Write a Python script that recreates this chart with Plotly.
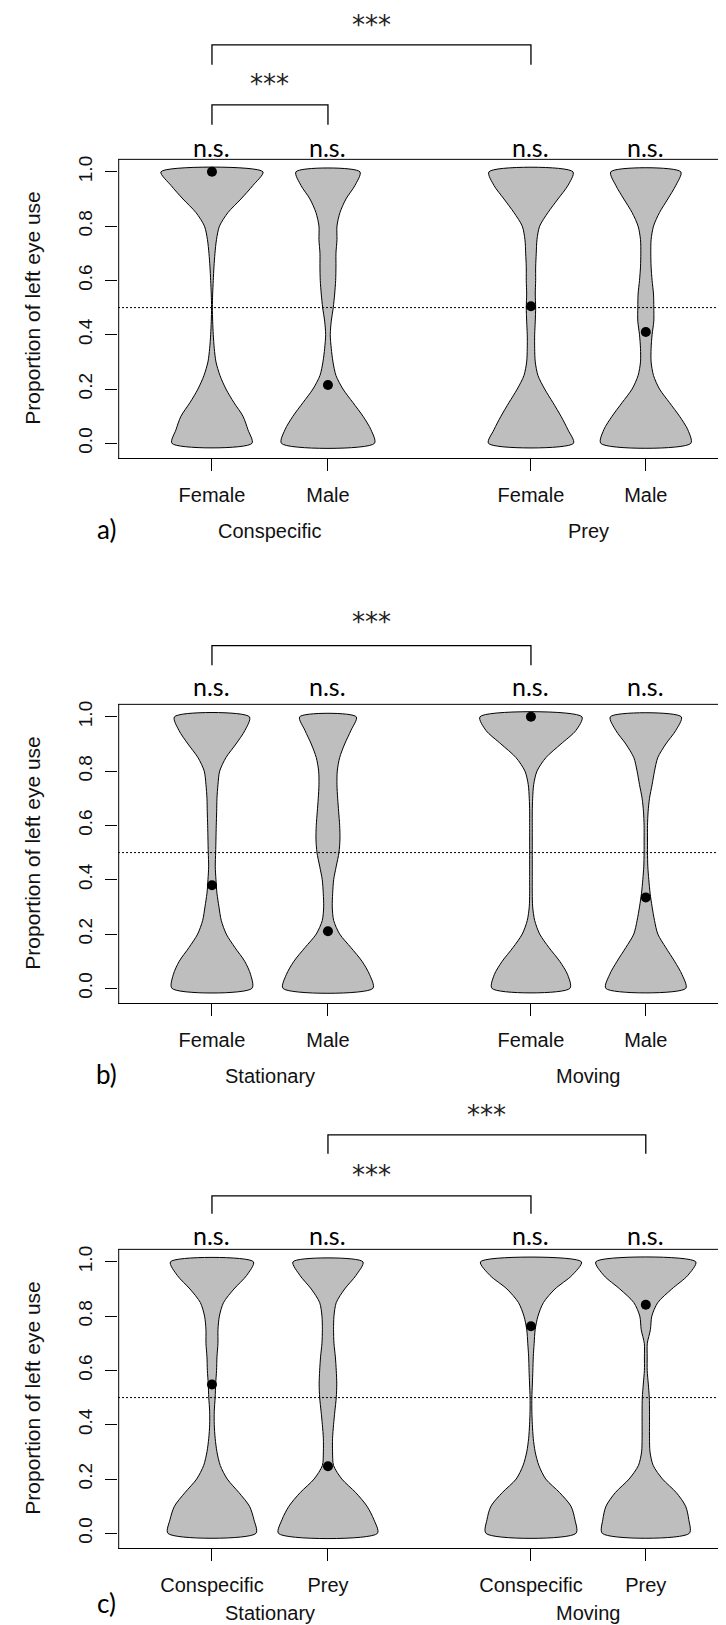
import plotly.graph_objects as go

# ---------------- data ----------------
Y_GRID = [0.00, 0.05, 0.10, 0.15, 0.20, 0.25, 0.30, 0.35, 0.40, 0.45, 0.50,
          0.55, 0.60, 0.65, 0.70, 0.75, 0.80, 0.85, 0.90, 0.95, 1.00]

POSITIONS = [1.0, 2.0, 3.75, 4.74]
Y_TICKS = [0.0, 0.2, 0.4, 0.6, 0.8, 1.0]
Y_TICKTEXT = ["0.0", "0.2", "0.4", "0.6", "0.8", "1.0"]
Y_TITLE = "Proportion of left eye use"
NS_LABEL = "n.s."
SIG_LABEL = "***"
REF_LINE = 0.5

# panel a
A_TICKS = ["Female", "Male", "Female", "Male"]
A_GROUPS = ["Conspecific", "Prey"]
A_MEDIANS = [1.0, 0.215, 0.505, 0.41]
A_CON_FEMALE = [40, 36, 31, 22, 14, 8, 4, 2.3, 1.3, 0.7, 0.4, 0.7, 1.3, 2, 3, 4.5, 7.5, 16, 29, 41, 51]
A_CON_MALE = [46.5, 43, 35, 25, 15, 8, 5, 3.3, 2.3, 3.3, 5.3, 6.7, 7.7, 8, 8, 9, 9, 12, 18, 27, 32]
A_PREY_FEMALE = [42.5, 37, 30, 22, 13.7, 7, 4.3, 3.7, 3.7, 4.3, 4.7, 4.3, 4.7, 4.7, 5.3, 6, 8.7, 17, 27, 37, 42]
A_PREY_MALE = [45, 42, 33.7, 23.7, 13.7, 7.7, 5.3, 5.3, 6.3, 8, 8, 7.7, 6.3, 5.3, 5, 5.3, 7.7, 13.7, 22, 30, 35]
A_COMPARISONS = [(0, 2), (0, 1)]

# panel b
B_TICKS = ["Female", "Male", "Female", "Male"]
B_GROUPS = ["Stationary", "Moving"]
B_MEDIANS = [0.38, 0.21, 1.0, 0.335]
B_STAT_FEMALE = [40, 38.7, 32.7, 23, 14.3, 9.3, 7, 5, 4, 3.3, 3.7, 4, 4.3, 4.7, 5, 6, 7.7, 14, 24, 33, 37.5]
B_STAT_MALE = [45, 41.7, 34, 23, 11.7, 5.7, 4.3, 4.7, 5.7, 8.3, 11, 12, 11.7, 10.7, 9.7, 9, 9.3, 11.7, 16.7, 23, 28.3]
B_MOV_FEMALE = [39, 36.7, 28.7, 18, 8.7, 3.7, 1.7, 1.3, 1.3, 1.3, 1.3, 1.3, 1.3, 1.3, 1.7, 2.7, 6, 15, 30, 45, 51]
B_MOV_MALE = [40, 36.3, 28.7, 20, 12, 8.7, 6.3, 4.3, 3, 2, 1.7, 1.7, 1.7, 2.3, 3.7, 6.3, 8.7, 12, 20, 30, 35.5]
B_COMPARISONS = [(0, 2)]

# panel c
C_TICKS = ["Conspecific", "Prey", "Conspecific", "Prey"]
C_GROUPS = ["Stationary", "Moving"]
C_MEDIANS = [0.548, 0.247, 0.763, 0.842]
C_STAT_CON = [44, 42, 37.5, 27, 15.3, 8.3, 5, 3.2, 2.3, 2.3, 3.2, 3.7, 4.6, 5, 6, 6, 7.4, 11.6, 22, 34.7, 41.5]
C_STAT_PREY = [49.5, 46, 39, 27.8, 13.9, 5.6, 4.6, 4.6, 5.6, 6.9, 8.3, 8.8, 8.3, 7.4, 6, 5.6, 6, 8.3, 16.7, 28, 35]
C_MOV_CON = [45, 44, 40, 28.7, 14.8, 7.9, 4.2, 2.3, 1.4, 0.9, 0.9, 1.4, 1.9, 2.3, 3.2, 4.2, 7, 12.5, 24, 41, 50.5]
C_MOV_PREY = [43.5, 43, 39.8, 30.5, 16.7, 7.4, 4.2, 3.7, 3.7, 3.7, 3.5, 2.5, 1.4, 1.4, 1.5, 4.6, 6, 12, 26, 42, 50]
C_COMPARISONS = [(1, 3), (0, 2)]

PANEL_LETTERS = ["a)", "b)", "c)"]

# ---------------- layout / style ----------------
FIG_W, FIG_H = 726, 1625
PLOT_LEFT_PX = 110
PX_PER_X = 116.0
PX_PER_Y = 271.5
WIDTH_SCALE = 1.0 / PX_PER_X
XMIN = 0.19
XMAX = XMIN + (FIG_W - PLOT_LEFT_PX) / PX_PER_X
YLO, YBOX = -0.054, 1.046
PANEL_BOTTOM_PX = [450, 995, 1540]
PANEL_YHI = [1.6, 1.42, 1.6]
NS_Y = [1.092, 1.114, 1.10]
BRACKET_LEVELS = [[(1.468, 1.394, 1.541), (1.247, 1.173, 1.324)],
                  [(1.262, 1.19, 1.35)],
                  [(1.468, 1.398, 1.541), (1.243, 1.177, 1.32)]]
LETTER_SHIFT = [71, 71, 55]
GROUP_SHIFT = [73, 73, 65]

AXIS_FONT = "Liberation Sans, Arial, sans-serif"
WORD_FONT = "Lato, Carlito, Calibri, sans-serif"
VIOLIN_FILL = "#BEBEBE"

panels = [
    (A_TICKS, A_GROUPS, A_MEDIANS, [A_CON_FEMALE, A_CON_MALE, A_PREY_FEMALE, A_PREY_MALE], A_COMPARISONS),
    (B_TICKS, B_GROUPS, B_MEDIANS, [B_STAT_FEMALE, B_STAT_MALE, B_MOV_FEMALE, B_MOV_MALE], B_COMPARISONS),
    (C_TICKS, C_GROUPS, C_MEDIANS, [C_STAT_CON, C_STAT_PREY, C_MOV_CON, C_MOV_PREY], C_COMPARISONS),
]

fig = go.Figure()
shapes = []
annotations = []
layout_axes = {}

for p, (ticks, groups, medians, profiles, comps) in enumerate(panels):
    n = p + 1
    xa = "x" if n == 1 else f"x{n}"
    ya = "y" if n == 1 else f"y{n}"
    xkey = "xaxis" if n == 1 else f"xaxis{n}"
    ykey = "yaxis" if n == 1 else f"yaxis{n}"

    # violins
    for pos, dens in zip(POSITIONS, profiles):
        xs = [pos - d * WIDTH_SCALE for d in dens] + [pos + d * WIDTH_SCALE for d in reversed(dens)]
        ys = list(Y_GRID) + list(reversed(Y_GRID))
        xs.append(xs[0])
        ys.append(ys[0])
        fig.add_trace(go.Scatter(
            x=xs, y=ys, mode="lines", fill="toself", fillcolor=VIOLIN_FILL,
            line=dict(color="black", width=1, shape="spline", smoothing=0.8),
            xaxis=xa, yaxis=ya, showlegend=False, hoverinfo="skip"))
    # medians
    fig.add_trace(go.Scatter(
        x=POSITIONS, y=medians, mode="markers",
        marker=dict(color="black", size=10),
        xaxis=xa, yaxis=ya, showlegend=False))

    y0 = 1 - PANEL_BOTTOM_PX[p] / FIG_H
    y1 = y0 + (PANEL_YHI[p] - YLO) * PX_PER_Y / FIG_H
    layout_axes[xkey] = dict(
        domain=[PLOT_LEFT_PX / FIG_W, 1], range=[XMIN, XMAX], anchor=ya,
        tickmode="array", tickvals=POSITIONS, ticktext=ticks,
        ticks="outside", ticklen=12, tickwidth=1, tickcolor="black",
        showline=True, linecolor="black", linewidth=1, mirror=False,
        showgrid=False, zeroline=False, ticklabelstandoff=7,
        tickfont=dict(family=AXIS_FONT, size=20, color="#111"))
    layout_axes[ykey] = dict(
        domain=[y0, y1], range=[YLO, PANEL_YHI[p]], anchor=xa,
        tickmode="array", tickvals=Y_TICKS, ticktext=Y_TICKTEXT, tickangle=-90,
        ticks="outside", ticklen=12, tickwidth=1, tickcolor="black",
        showline=False, showgrid=False, zeroline=False, ticklabelstandoff=5,
        tickfont=dict(family=AXIS_FONT, size=19, color="#111"))

    frame_x = XMIN + 0.006
    # frame: left and top
    shapes.append(dict(type="line", xref=xa, yref=ya, x0=frame_x, x1=frame_x, y0=YLO, y1=YBOX,
                       line=dict(color="black", width=1)))
    shapes.append(dict(type="line", xref=xa, yref=ya, x0=XMIN, x1=XMAX, y0=YBOX, y1=YBOX,
                       line=dict(color="black", width=1)))
    # reference dotted line
    shapes.append(dict(type="line", xref=xa, yref=ya, x0=XMIN, x1=XMAX, y0=REF_LINE, y1=REF_LINE,
                       line=dict(color="black", width=1, dash="2px,2px")))

    # brackets
    for (i, j), (ybar, ydrop, ystar) in zip(comps, BRACKET_LEVELS[p]):
        xi, xj = POSITIONS[i], POSITIONS[j]
        shapes.append(dict(type="path", xref=xa, yref=ya,
                           path=f"M {xi},{ydrop} L {xi},{ybar} L {xj},{ybar} L {xj},{ydrop}",
                           line=dict(color="black", width=1.3)))
        annotations.append(dict(x=(xi + xj) / 2, y=ystar, xref=xa, yref=ya, text=SIG_LABEL,
                                showarrow=False, xanchor="center", yanchor="middle",
                                font=dict(family="DejaVu Sans", size=26, color="#222")))

    # n.s. labels
    for pos in POSITIONS:
        annotations.append(dict(x=pos, y=NS_Y[p], xref=xa, yref=ya, text=NS_LABEL, showarrow=False,
                                xanchor="center", yanchor="middle",
                                font=dict(family=WORD_FONT, size=25, color="black")))

    # group labels
    for k, g in enumerate(groups):
        gx = (POSITIONS[2 * k] + POSITIONS[2 * k + 1]) / 2
        annotations.append(dict(x=gx, y=YLO, xref=xa, yref=ya, yshift=-GROUP_SHIFT[p], text=g,
                                showarrow=False, xanchor="center", yanchor="middle",
                                font=dict(family=AXIS_FONT, size=20, color="#111")))

    # y title
    annotations.append(dict(x=25 / FIG_W, y=(YLO + YBOX) / 2, xref="paper", yref=ya, text=Y_TITLE,
                            textangle=-90, showarrow=False, xanchor="center", yanchor="middle",
                            font=dict(family=AXIS_FONT, size=21, color="#111")))
    # panel letter
    annotations.append(dict(x=98 / FIG_W, y=YLO, xref="paper", yref=ya, yshift=-LETTER_SHIFT[p],
                            text=PANEL_LETTERS[p], showarrow=False, xanchor="center", yanchor="middle",
                            font=dict(family=WORD_FONT, size=26, color="black")))

fig.update_layout(
    width=FIG_W, height=FIG_H, margin=dict(l=0, r=0, t=0, b=0),
    paper_bgcolor="white", plot_bgcolor="white", showlegend=False,
    shapes=shapes, annotations=annotations, **layout_axes)

fig.write_html("out.html")
